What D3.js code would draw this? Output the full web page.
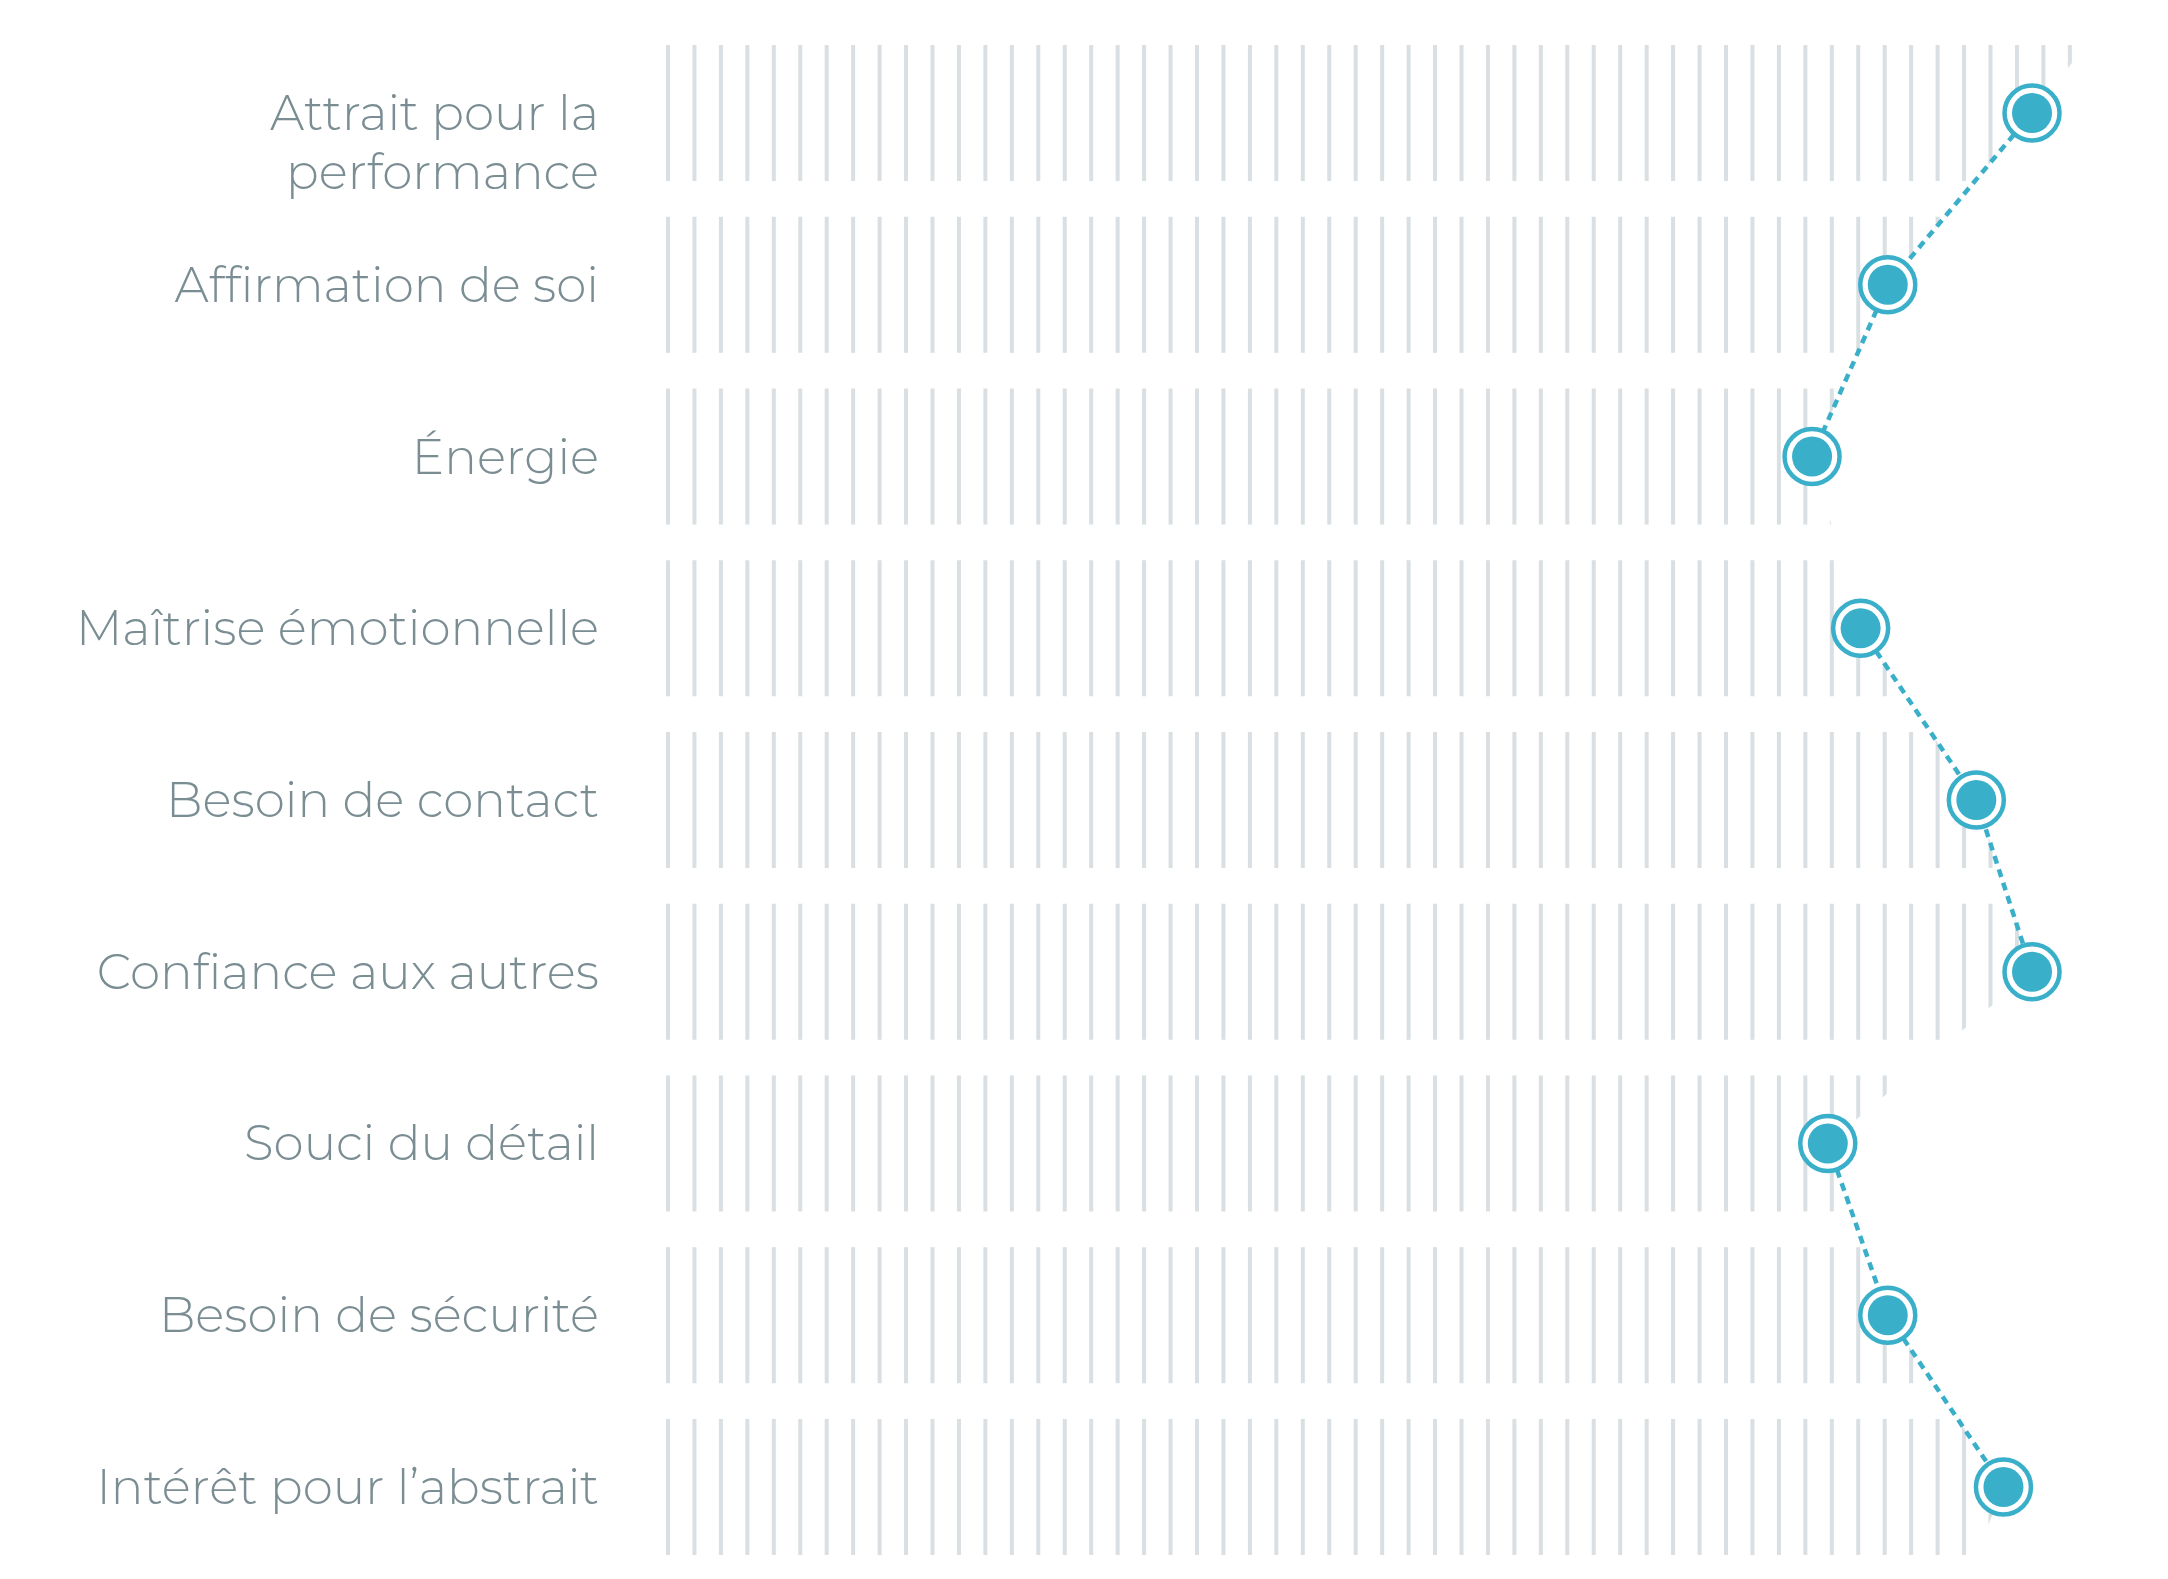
<!DOCTYPE html>
<html>
<head>
<meta charset="utf-8">
<script src="https://cdn.jsdelivr.net/npm/d3@7"></script>
<style>
  html, body { margin: 0; padding: 0; background: #fff; }
</style>
</head>
<body>
<div id="chart"></div>
<script>
// profile labels (top to bottom), multi-line labels split with "|"
const traits = [
    "Attrait pour la|performance",
    "Affirmation de soi",
    "Énergie",
    "Maîtrise émotionnelle",
    "Besoin de contact",
    "Confiance aux autres",
    "Souci du détail",
    "Besoin de sécurité",
    "Intérêt pour l’abstrait"
];
// which family each trait belongs to (the dashed line only joins traits of one family)
const families = [0, 0, 0, 1, 1, 1, 2, 2, 2];
// scores on a 0-100 scale
const scores = [95.5, 85.4, 80.1, 83.5, 91.6, 95.5, 81.2, 85.4, 93.5];
// where the hatched profile meets the top and bottom edges
const profileTop = 99.3;
const profileBottom = 91.6;
const stripeCount = 54;

const width = 2168, height = 1579;
const blue = "#3aafca", stripeColor = "#d9dfe2", textColor = "#7a8d93";

let svg = d3.select("#chart")
    .append("svg")
    .attr("width", width)
    .attr("height", height);

let x = d3.scaleLinear()
    .domain([0, 100])
    .range([668, 2096.3]);

let y = d3.scaleBand()
    .domain(traits)
    .range([45, 1555])
    .paddingInner(0.208)
    .paddingOuter(0);

const yTop = y.range()[0], yBottom = y.range()[1];

// outline of the hatched area: left edge, then along the profile line
let profile = [[x(profileTop), yTop]]
    .concat(traits.map((t, i) => [x(scores[i]), y(t) + y.bandwidth() / 2]))
    .concat([[x(profileBottom), yBottom]]);

let outline = "M" + (x(0) - 10) + "," + yTop + "L" + profile.map(p => p.join(",")).join("L")
    + "L" + (x(0) - 10) + "," + yBottom + "Z";

svg.append("defs")
    .append("clipPath")
    .attr("id", "profile-clip")
    .append("path")
    .attr("d", outline);

let stripeValues = d3.range(stripeCount).map(i => i * 100 / stripeCount);

let hatch = svg.append("g")
    .attr("clip-path", "url(#profile-clip)");

traits.forEach(function (t) {
    hatch.append("g")
        .selectAll("rect")
        .data(stripeValues)
        .enter()
        .append("rect")
        .attr("x", d => x(d) - 2)
        .attr("y", y(t))
        .attr("width", 4)
        .attr("height", y.bandwidth())
        .attr("fill", stripeColor);
});

// labels
let labels = svg.append("g")
    .attr("font-family", "Montserrat, 'Open Sans', sans-serif")
    .attr("font-weight", 300)
    .attr("font-size", 48.5)
    .attr("fill", textColor)
    .attr("text-anchor", "end");

traits.forEach(function (t) {
    let lines = t.split("|");
    let text = labels.append("text")
        .attr("x", 599)
        .attr("y", y(t) + y.bandwidth() / 2 + 17);
    lines.forEach(function (line, k) {
        text.append("tspan")
            .attr("x", 599)
            .attr("dy", k === 0 ? 0 : 59)
            .text(line);
    });
});

// dashed profile line, one piece per family
let pts = traits.map((t, i) => ({cx: x(scores[i]), cy: y(t) + y.bandwidth() / 2, family: families[i]}));

let line = d3.line().x(d => d.cx).y(d => d.cy);

svg.append("g")
    .selectAll("path")
    .data(d3.groups(pts, d => d.family).map(g => g[1]))
    .enter()
    .append("path")
    .attr("fill", "none")
    .attr("stroke", blue)
    .attr("stroke-width", 4.5)
    .attr("stroke-dasharray", "8,6")
    .attr("d", line);

let marks = svg.append("g")
    .selectAll("g")
    .data(pts)
    .enter()
    .append("g")
    .attr("transform", d => "translate(" + d.cx + "," + d.cy + ")");

marks.append("circle")
    .attr("r", 27.5)
    .attr("fill", "#fff")
    .attr("stroke", blue)
    .attr("stroke-width", 4.5);

marks.append("circle")
    .attr("r", 20)
    .attr("fill", blue);
</script>
</body>
</html>
